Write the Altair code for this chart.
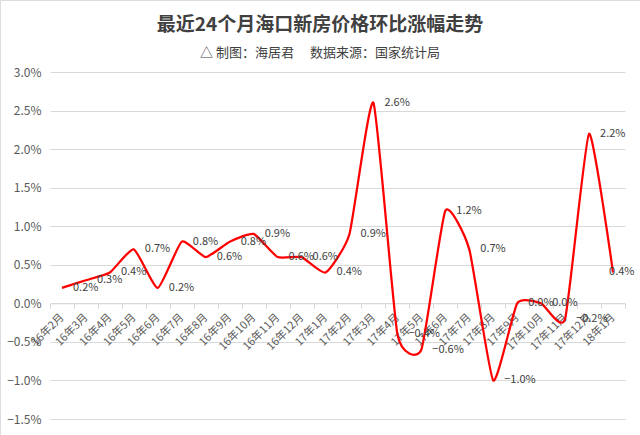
import altair as alt
import pandas as pd

months = ["16年2月", "16年3月", "16年4月", "16年5月", "16年6月", "16年7月", "16年8月",
          "16年9月", "16年10月", "16年11月", "16年12月", "17年1月", "17年2月", "17年3月",
          "17年4月", "17年5月", "17年6月", "17年7月", "17年8月", "17年9月", "17年10月",
          "17年11月", "17年12月", "18年1月"]
changes = [0.2, 0.3, 0.4, 0.7, 0.2, 0.8, 0.6, 0.8, 0.9, 0.6, 0.6, 0.4,
           0.9, 2.6, -0.4, -0.6, 1.2, 0.7, -1.0, 0.0, 0.0, -0.2, 2.2, 0.4]
y_ticks = [-1.5, -1.0, -0.5, 0.0, 0.5, 1.0, 1.5, 2.0, 2.5, 3.0]

df = pd.DataFrame({"month": months, "change": changes, "idx": list(range(len(months)))})

FONT = "Noto Sans CJK SC"
CW, CH = 640, 435            # whole canvas = view
PL, PR, PT, PB = 50, 625, 72, 419   # plot-area edges inside the canvas
zero_y = PT + (PB - PT) * 3.0 / 4.5

x_scale = alt.Scale(type="band", paddingInner=0, paddingOuter=0, range=[PL, PR])
y_scale = alt.Scale(domain=[-1.5, 3.0], nice=False, zero=False, range=[PB, PT])

x_axis = alt.Axis(title=None, labelAngle=-45, labelAlign="right",
                  labelBaseline="middle", labelPadding=7,
                  labelFontSize=11, labelColor="#595959", labelFont=FONT,
                  labelOverlap=False,
                  domainColor="#d9d9d9", tickColor="#d9d9d9", tickSize=5,
                  tickBand="extent", grid=False,
                  offset=-(CH - zero_y))
y_axis = alt.Axis(title=None, values=y_ticks,
                  labelExpr="format(datum.value, '.1f') + '%'",
                  labelFontSize=12, labelColor="#595959", labelFont=FONT,
                  labelOverlap=False, labelPadding=9,
                  domain=False, ticks=False,
                  gridColor="#d9d9d9", gridWidth=1, offset=-PL)

x_enc = alt.X("month:N", sort=months, scale=x_scale, axis=x_axis)
y_enc = alt.Y("change:Q", scale=y_scale, axis=y_axis)

base = alt.Chart(df)

line = base.mark_line(color="#ff0000", strokeWidth=2.25,
                      interpolate="cardinal", tension=0.5).encode(x=x_enc, y=y_enc)

label_calc = "format(datum.change, '.1f') + '%'"

labels = base.mark_text(align="left", baseline="middle", dx=11, fontSize=11,
                        color="#404040", font=FONT).transform_filter(
    alt.datum.idx < len(months) - 1
).transform_calculate(lab=label_calc).encode(x=x_enc, y=y_enc, text="lab:N")

last_label = base.mark_text(align="left", baseline="middle", dx=-4, fontSize=11,
                            color="#404040", font=FONT).transform_filter(
    alt.datum.idx == len(months) - 1
).transform_calculate(lab=label_calc).encode(x=x_enc, y=y_enc, text="lab:N")

chart = alt.layer(line, labels, last_label).properties(
    width=CW, height=CH,
    autosize=alt.AutoSizeParams(type="none"),
    padding=0,
    title=alt.TitleParams(
        text="最近24个月海口新房价格环比涨幅走势",
        subtitle="△ 制图：海居君　 数据来源：国家统计局",
        font=FONT, fontSize=19, fontWeight="bold", color="#404040",
        subtitleFont=FONT, subtitleFontSize=13, subtitleColor="#404040",
        subtitlePadding=12, anchor="middle", frame="group", offset=-60,
    ),
).configure_view(stroke="#d9d9d9", strokeWidth=2).configure_axis(
    labelOverlap=False).configure(background="white")

chart.save("out.html", embed_options={"renderer": "svg", "actions": False})
